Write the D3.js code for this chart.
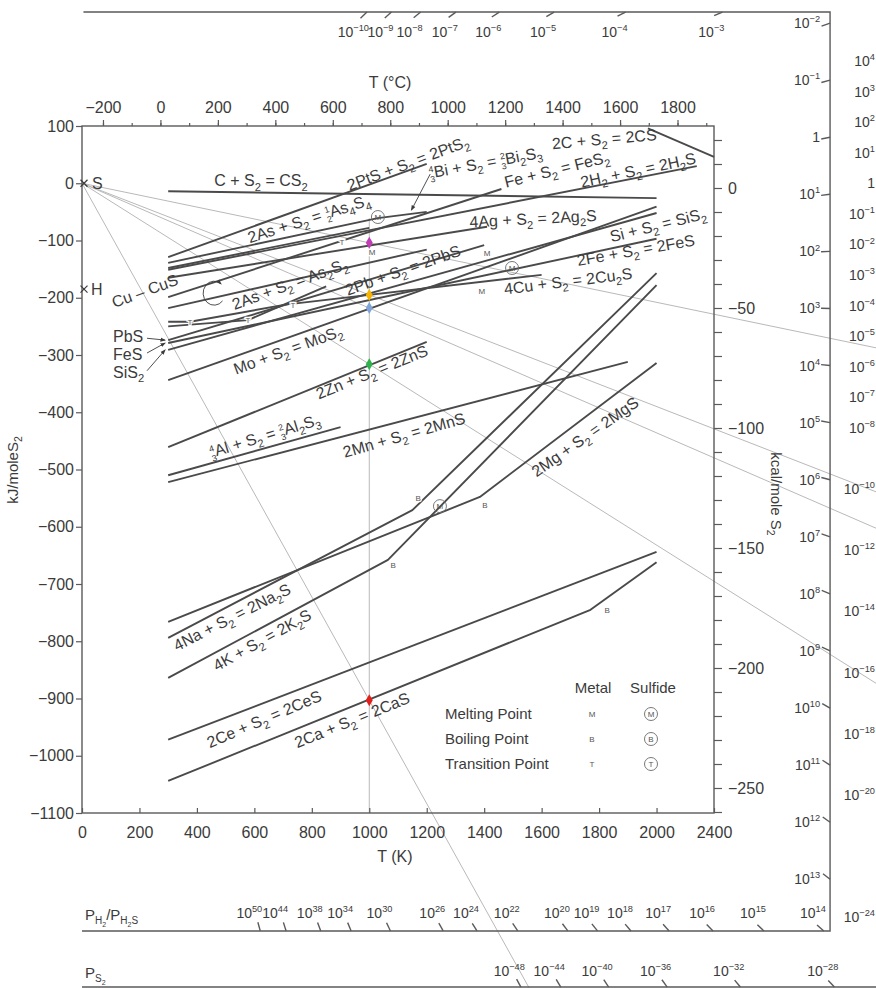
<!DOCTYPE html>
<html>
<head>
<meta charset="utf-8">
<script src="https://cdn.jsdelivr.net/npm/d3@7"></script>
<style>
  body { margin: 0; background: #fff; }
  svg text { font-family: "Liberation Sans", Arial, Helvetica, sans-serif; }
</style>
</head>
<body>
<svg id="chart" width="876" height="988"></svg>
<script>
// ---------------- data ----------------
const kjTicks = d3.range(100, -1101, -100);
const kelvinTicks = [0, 200, 400, 600, 800, 1000, 1200, 1400, 1600, 1800, 2000, 2200];
const kelvinLabels = ["0", "200", "400", "600", "800", "1000", "1200", "1400", "1600", "1800", "2000", "2400"];
const celsiusMajor = d3.range(-200, 1801, 200);
const celsiusMinor = d3.range(-200, 1901, 100);
const kcalTicks = d3.range(20, -261, -10);

// reaction lines, points as [T (K), dG (kJ/mole S2)]
const reactionLabels = [
  "C + S_{2} = CS_{2}",
  "2C + S_{2} = 2CS",
  "2PtS + S_{2} = 2PtS_{2}",
  "\\f{4}{3}Bi + S_{2} = \\f{2}{3}Bi_{2}S_{3}",
  "2As + S_{2} = \\f{1}{2}As_{4}S_{4}",
  "2H_{2} + S_{2} = 2H_{2}S",
  "4Ag + S_{2} = 2Ag_{2}S",
  "Fe + S_{2} = FeS_{2}",
  "2As + S_{2} = As_{2}S_{2}",
  "Cu – CuS",
  "4Cu + S_{2} = 2Cu_{2}S",
  "2Pb + S_{2} = 2PbS",
  "2Fe + S_{2} = 2FeS",
  "Si + S_{2} = SiS_{2}",
  "Mo + S_{2} = MoS_{2}",
  "2Zn + S_{2} = 2ZnS",
  "\\f{4}{3}Al + S_{2} = \\f{2}{3}Al_{2}S_{3}",
  "2Mn + S_{2} = 2MnS",
  "2Mg + S_{2} = 2MgS",
  "4Na + S_{2} = 2Na_{2}S",
  "4K + S_{2} = 2K_{2}S",
  "2Ce + S_{2} = 2CeS",
  "2Ca + S_{2} = 2CaS"
];
const reactionPoints = [
  [[300, -14], [2000, -26]],
  [[1970, 96], [2200, 46]],
  [[300, -129], [1200, 34]],
  [[300, -139], [1030, -61], [1200, -50]],
  [[300, -148], [1000, -78]],
  [[300, -151], [2140, 30]],
  [[300, -165], [1410, -76]],
  [[300, -199], [1460, -10]],
  [[300, -218], [1200, -116]],
  [[300, -250], [578, -239], [850, -180]],
  [[300, -242], [376, -242], [708, -212], [1600, -160]],
  [[300, -274], [1400, -108]],
  [[300, -279], [2000, -97]],
  [[300, -291], [2000, -52]],
  [[300, -344], [2000, -41]],
  [[300, -461], [1200, -277]],
  [[300, -510], [900, -426]],
  [[300, -522], [1900, -312]],
  [[300, -766], [1385, -548], [2000, -314]],
  [[300, -794], [1150, -571], [2000, -157]],
  [[300, -864], [1065, -658], [2000, -178]],
  [[300, -972], [2000, -644]],
  [[300, -1044], [1770, -745], [2000, -662]]
];
// label centre [T, dG] and rotation, same order as reactionLabels
const labelPlacement = [
  [623, 4, 0], [1818, 77, -5], [1135, 35, -20.5], [1405, 36, -10.5],
  [790, -62, -17.5], [1936, 23, -12], [1570, -62, -3], [1653, 24, -14],
  [724, -176, -20], [219, -188, -20], [1692, -171, -7], [1117, -152, -19.5],
  [1928, -117, -10], [2005, -73, -14], [717, -291, -20], [1009, -330, -22],
  [637, -441, -17], [1121, -440, -16], [1751, -443, -35], [522, -758, -27],
  [627, -798, -29], [634, -936, -23], [940, -938, -22]
];

// equilibrium points at 1000 K
const pointT = 1000;
const pointG = [-104, -195, -218, -316, -903];
const pointColors = ["#c13db5", "#f6b400", "#7ea4d8", "#2fb24b", "#e11f1c"];

// phase change markers [T, dG]
const metalMelt = [[1010, -120], [1410, -122], [1392, -188]];
const metalBoil = [[1170, -550], [1083, -667], [1403, -562], [1828, -745]];
const metalTrans = [[905, -103], [376, -242], [578, -239], [734, -213]];
const sulfideMelt = [[1030, -59], [1497, -148], [1246, -564]];

// nomographic scales (exponents of 10)
const h2TopExp = [-10, -9, -8, -7, -6, -5, -4, -3];
const h2RightExp = [-2, -1, 0, 1, 2, 3, 4, 5, 6, 7, 8, 9, 10, 11, 12, 13];
const h2BottomExp = [14, 15, 16, 17, 18, 19, 20, 22, 24, 26, 30, 34, 38, 44, 50];
const s2FarExp = [4, 3, 2, 1, 0, -1, -2, -3, -4, -5, -6, -7, -8, -10, -12, -14, -16, -18, -20, -24];
const s2BottomExp = [-48, -44, -40, -36, -32, -28];

// ---------------- layout ----------------
const W = 876, H = 988;
const ink = "#3b3b3b", lineInk = "#4a4a4a", thinInk = "#b9b9b9", axisInk = "#5a5a5a";
const svg = d3.select("#chart");
const num = d3.format("");

const x = d3.scaleLinear().domain([0, 2200]).range([82, 714]);
const y = d3.scaleLinear().domain([100, -1100]).range([126, 813]);
const xC = d3.scaleLinear().domain([-273, 1927]).range([82, 714]);
const yKcal = d3.scaleLinear().domain([0, -250]).range([188, 788]);

// nomograph frame in data units
const nomoTopG = 299, nomoRightT = 2604, nomoBottomG = -1306, ps2LineG = -1404, ps2FarT = 2790;
const R = 0.0083145, LN10 = Math.LN10;
const hOrigin = -180, hSlope0 = 0.1;
const hRayG = (e, T) => hOrigin + T * (hSlope0 - 2 * R * LN10 * e);
const hRayT = (e, G) => (G - hOrigin) / (hSlope0 - 2 * R * LN10 * e);
const sRayG = (e, T) => T * R * LN10 * e;
const sRayT = (e, G) => G / (R * LN10 * e);

// rich text: _{sub} ^{sup} \f{num}{den}
function parseRich(str, fs) {
  const parts = [];
  const re = /_\{([^}]*)\}|\^\{([^}]*)\}|\\f\{([^}]*)\}\{([^}]*)\}|([^_^\\]+)/g;
  let m;
  while ((m = re.exec(str))) {
    if (m[5] !== undefined) parts.push({ t: m[5], s: fs, o: 0 });
    else if (m[1] !== undefined) parts.push({ t: m[1], s: fs * 0.7, o: fs * 0.28 });
    else if (m[2] !== undefined) parts.push({ t: m[2], s: fs * 0.66, o: -fs * 0.42 });
    else {
      const s = fs * 0.55;
      parts.push({ t: m[3], s, o: -fs * 0.36 });
      parts.push({ t: m[4], s, o: fs * 0.26, dx: -0.556 * s * m[3].length });
    }
  }
  return parts;
}
function addRich(textSel, parts) {
  let prev = 0;
  parts.forEach(p => {
    const ts = textSel.append("tspan").attr("font-size", p.s).attr("dy", p.o - prev).text(p.t);
    if (p.dx) ts.attr("dx", p.dx);
    prev = p.o;
  });
}
const expLabel = e => e === 0 ? "1" : `10^{${e < 0 ? "−" : ""}${Math.abs(e)}}`;

const defs = svg.append("defs");
defs.append("marker").attr("id", "arr").attr("viewBox", "0 0 8 8")
  .attr("refX", 7).attr("refY", 4).attr("markerWidth", 6).attr("markerHeight", 6)
  .attr("orient", "auto")
  .append("path").attr("d", "M0,1 L8,4 L0,7 Z").attr("fill", ink);

const line = d3.line().x(d => x(d[0])).y(d => y(d[1]));

// ---------------- thin guide lines ----------------
const gThin = svg.append("g").attr("stroke", thinInk).attr("stroke-width", 1).attr("fill", "none");
pointG.forEach(g => {
  const k = g / pointT;
  let Tend = 2950;
  if (k * Tend < -1430) Tend = -1430 / k;
  gThin.append("path").attr("d", line([[0, 0], [Tend, k * Tend]]));
});
gThin.append("path").attr("d", line([[pointT, -61], [pointT, -1100]]));

// ---------------- plot frame & axes ----------------
svg.append("rect")
  .attr("x", x(0)).attr("y", y(100))
  .attr("width", x(2200) - x(0)).attr("height", y(-1100) - y(100))
  .attr("fill", "none").attr("stroke", axisInk).attr("stroke-width", 1.4);

function styleAxis(g) {
  g.select(".domain").remove();
  g.attr("font-size", 16).attr("font-family", null).attr("color", axisInk);
  g.selectAll("text").attr("fill", ink);
  g.selectAll("line").attr("stroke-width", 1.2);
}
svg.append("g").attr("transform", `translate(${x(0)},0)`)
  .call(d3.axisLeft(y).tickValues(kjTicks).tickSize(6).tickPadding(2).tickFormat(num))
  .call(styleAxis);
svg.append("g").attr("transform", `translate(0,${y(-1100)})`)
  .call(d3.axisBottom(x).tickValues(kelvinTicks).tickSizeInner(-5).tickSizeOuter(0)
    .tickPadding(14).tickFormat((d, i) => kelvinLabels[i]))
  .call(styleAxis);
svg.append("g").attr("transform", `translate(0,${y(100)})`)
  .call(d3.axisTop(xC).tickValues(celsiusMinor).tickSize(3).tickFormat(""))
  .call(styleAxis);
svg.append("g").attr("transform", `translate(0,${y(100)})`)
  .call(d3.axisTop(xC).tickValues(celsiusMajor).tickSize(6).tickPadding(7).tickFormat(num))
  .call(styleAxis);
svg.append("g").attr("transform", `translate(${x(2200)},0)`)
  .call(d3.axisRight(yKcal).tickValues(kcalTicks).tickSize(8).tickPadding(6)
    .tickFormat(d => d % 50 === 0 ? num(d) : ""))
  .call(styleAxis);

svg.append("text").attr("x", 390).attr("y", 88).attr("text-anchor", "middle")
  .attr("font-size", 16).attr("fill", ink).text("T (°C)");
svg.append("text").attr("x", 395).attr("y", 862).attr("text-anchor", "middle")
  .attr("font-size", 16).attr("fill", ink).text("T (K)");
addRich(svg.append("text").attr("transform", "translate(18,470) rotate(-90)")
  .attr("text-anchor", "middle").attr("fill", ink), parseRich("kJ/moleS_{2}", 15));
addRich(svg.append("text").attr("transform", "translate(771,494) rotate(90)")
  .attr("text-anchor", "middle").attr("fill", ink), parseRich("kcal/mole S_{2}", 15));

// ---------------- nomograph scales ----------------
const gNomo = svg.append("g");
const frame = gNomo.append("g").attr("stroke", axisInk).attr("stroke-width", 1.4).attr("fill", "none");
frame.append("path").attr("d",
  `M${x(5)},${y(nomoTopG)}H${x(nomoRightT)}V${y(nomoBottomG)}H${x(0)}`);
frame.append("path").attr("d", `M${x(0)},${y(ps2LineG)}H${W + 5}`);

function tickToward(px, py, ox, oy, len) {
  const dx = ox - px, dy = oy - py, L = Math.hypot(dx, dy);
  return `M${px},${py}L${px + dx / L * len},${py + dy / L * len}`;
}
const hx = x(0), hy = y(hOrigin), sx = x(0), sy = y(0);
const nomoFs = 14;
function nomoLabel(px, py, anchor, e) {
  const t = gNomo.append("text").attr("x", px).attr("y", py)
    .attr("text-anchor", anchor).attr("fill", ink);
  addRich(t, parseRich(expLabel(e), nomoFs));
}
h2TopExp.forEach(e => {
  const px = x(hRayT(e, nomoTopG)), py = y(nomoTopG);
  frame.append("path").attr("d", tickToward(px, py, hx, hy, 9));
  nomoLabel(px + 2, 37, "end", e);
});
h2RightExp.forEach(e => {
  const px = x(nomoRightT), py = y(hRayG(e, nomoRightT));
  frame.append("path").attr("d", tickToward(px, py, hx, hy, 9));
  nomoLabel(px - 10, py + 5, "end", e);
});
h2BottomExp.forEach(e => {
  const px = x(hRayT(e, nomoBottomG)), py = y(nomoBottomG);
  frame.append("path").attr("d", tickToward(px, py, hx, hy, 9));
  nomoLabel(px + 2, 918, "end", e);
});
s2BottomExp.forEach(e => {
  const px = x(sRayT(e, ps2LineG)), py = y(ps2LineG);
  frame.append("path").attr("d", tickToward(px, py, sx, sy, 9));
  nomoLabel(px + 4, 976, "end", e);
});
// P_S2 scale beyond the right edge: labels only, kept just inside the page
s2FarExp.forEach(e => {
  nomoLabel(W - 1, y(sRayG(e, ps2FarT)) + 5, "end", e);
});
// scale names
(function () {
  const t = gNomo.append("text").attr("x", 85).attr("y", 920).attr("fill", ink);
  addRich(t, [
    { t: "P", s: 15, o: 0 }, { t: "H", s: 10, o: 4 }, { t: "2", s: 7, o: 7 },
    { t: "/P", s: 15, o: 0 }, { t: "H", s: 10, o: 4 }, { t: "2", s: 7, o: 7 }, { t: "S", s: 10, o: 4 }
  ]);
  const t2 = gNomo.append("text").attr("x", 85).attr("y", 978).attr("fill", ink);
  addRich(t2, [{ t: "P", s: 15, o: 0 }, { t: "S", s: 10, o: 4 }, { t: "2", s: 7, o: 7 }]);
})();

// ---------------- reaction lines ----------------
const gLines = svg.append("g").attr("stroke", lineInk).attr("stroke-width", 1.9)
  .attr("fill", "none").attr("stroke-linejoin", "round");
reactionPoints.forEach(pts => gLines.append("path").attr("d", line(pts)));

// S and H reference points
const gRef = svg.append("g").attr("stroke", ink).attr("stroke-width", 1.2);
[[0, 0], [0, -185]].forEach(p => {
  const px = x(p[0]) + 2, py = y(p[1]);
  gRef.append("path").attr("d", `M${px - 3.5},${py - 3.5}L${px + 3.5},${py + 3.5}M${px - 3.5},${py + 3.5}L${px + 3.5},${py - 3.5}`);
});
svg.append("text").attr("x", x(0) + 10).attr("y", y(0) + 6).attr("font-size", 16).attr("fill", ink).text("S");
svg.append("text").attr("x", x(0) + 9).attr("y", y(-185) + 6).attr("font-size", 16).attr("fill", ink).text("H");

// equilibrium points
svg.append("g").selectAll("path").data(pointG).join("path")
  .attr("transform", d => `translate(${x(pointT)},${y(d)})`)
  .attr("d", d3.symbol(d3.symbolDiamond, 42))
  .attr("fill", (d, i) => pointColors[i]);

// phase markers
const gMark = svg.append("g");
function smallMark(list, letter) {
  list.forEach(p => gMark.append("text").attr("x", x(p[0])).attr("y", y(p[1]) + 3)
    .attr("text-anchor", "middle").attr("font-size", 8).attr("fill", "#555")
    .attr("stroke", "#fff").attr("stroke-width", 2.5).attr("paint-order", "stroke")
    .text(letter));
}
smallMark(metalMelt, "M");
smallMark(metalBoil, "B");
smallMark(metalTrans, "T");
sulfideMelt.forEach(p => {
  gMark.append("circle").attr("cx", x(p[0])).attr("cy", y(p[1])).attr("r", 6.5)
    .attr("fill", "none").attr("stroke", "#6a6a6a").attr("stroke-width", 0.9);
  gMark.append("text").attr("x", x(p[0])).attr("y", y(p[1]) + 3)
    .attr("text-anchor", "middle").attr("font-size", 8).attr("fill", "#555").text("M");
});

// ---------------- labels ----------------
const gLab = svg.append("g").attr("fill", ink);
reactionLabels.forEach((s, i) => {
  const [T, G, a] = labelPlacement[i];
  const px = x(T), py = y(G);
  const t = gLab.append("text").attr("x", px).attr("y", py + 5.5)
    .attr("text-anchor", "middle").attr("transform", `rotate(${a},${px},${py})`);
  addRich(t, parseRich(s, 16));
});
// labels for lines starting at 300 K on the left
const sideLabels = ["PbS", "FeS", "SiS_{2}"];
const sideLabelG = [-269, -300, -331];
const sideTargetG = [-274, -279, -291];
sideLabels.forEach((s, i) => {
  const t = gLab.append("text").attr("x", x(108)).attr("y", y(sideLabelG[i]) + 5);
  addRich(t, parseRich(s, 16));
  gLab.append("path")
    .attr("d", `M${x(108) + 34},${y(sideLabelG[i]) + (i === 0 ? 1 : -2)}L${x(300) - 3},${y(sideTargetG[i])}`)
    .attr("stroke", ink).attr("stroke-width", 0.9).attr("fill", "none").attr("marker-end", "url(#arr)");
});
// Bi label pointer
gLab.append("path").attr("d", `M${x(1212)},${y(16)}L${x(1150) - 1},${y(-54) - 4}`)
  .attr("stroke", ink).attr("stroke-width", 0.9).attr("fill", "none").attr("marker-end", "url(#arr)");
// Cu-CuS loop arrow
(function () {
  const cx = x(460), cy = y(-192), rx = 11, ry = 12;
  const a0 = 40 * Math.PI / 180, a1 = -50 * Math.PI / 180;
  gLab.append("path")
    .attr("d", `M${cx + rx * Math.cos(a0)},${cy + ry * Math.sin(a0)}A${rx},${ry} 0 1 1 ${cx + rx * Math.cos(a1)},${cy + ry * Math.sin(a1)}`)
    .attr("stroke", ink).attr("stroke-width", 0.9).attr("fill", "none").attr("marker-end", "url(#arr)");
})();

// ---------------- legend ----------------
const legendRows = ["Melting Point", "Boiling Point", "Transition Point"];
const legendMetal = ["M", "B", "T"];
const gLeg = svg.append("g").attr("fill", ink);
gLeg.append("text").attr("x", 593).attr("y", 693).attr("text-anchor", "middle").attr("font-size", 15).text("Metal");
gLeg.append("text").attr("x", 653).attr("y", 693).attr("text-anchor", "middle").attr("font-size", 15).text("Sulfide");
legendRows.forEach((r, i) => {
  const by = 719 + i * 25;
  gLeg.append("text").attr("x", 445).attr("y", by).attr("font-size", 15).text(r);
  gLeg.append("text").attr("x", 592).attr("y", by - 2).attr("text-anchor", "middle")
    .attr("font-size", 8).attr("fill", "#555").text(legendMetal[i]);
  gLeg.append("circle").attr("cx", 651).attr("cy", by - 5).attr("r", 6.5)
    .attr("fill", "none").attr("stroke", "#6a6a6a").attr("stroke-width", 0.9);
  gLeg.append("text").attr("x", 651).attr("y", by - 2).attr("text-anchor", "middle")
    .attr("font-size", 8).attr("fill", "#555").text(legendMetal[i]);
});
</script>
</body>
</html>
